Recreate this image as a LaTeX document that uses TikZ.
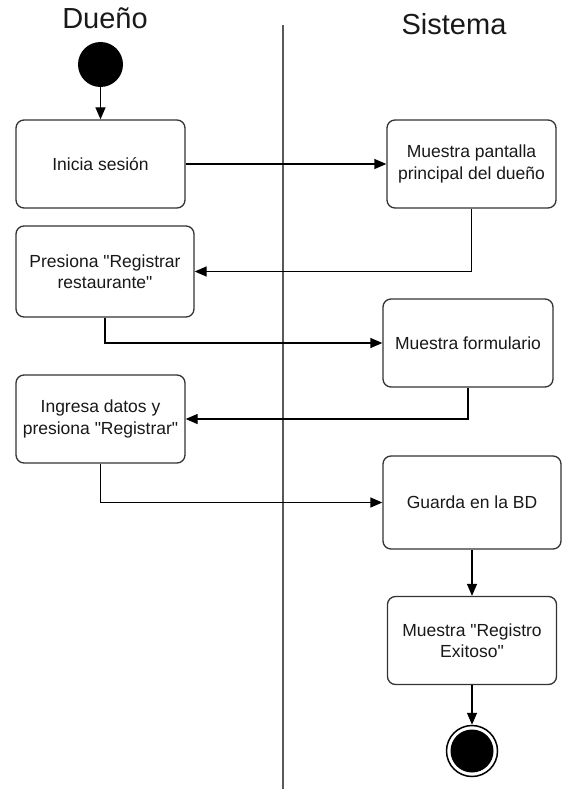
\documentclass[tikz,border=0pt]{standalone}
\usepackage{fontspec}
\setmainfont{Liberation Sans}[Ligatures=TeXOff]
\usetikzlibrary{arrows.meta}
\tikzset{
    action/.style ={
        shape=rectangle,
        rounded corners=8pt,
        draw=black!80,
        line width=1.3pt,
        fill=white,
        text=black!90,
        align=center,
        inner sep=0pt,
        minimum width=169pt,
        minimum height=88pt,
        font=\fontsize{17.5}{21.5}\selectfont
    },
    startdot/.style ={
        shape=circle,
        fill=black,
        inner sep=0pt,
        minimum size=45pt
    },
    endring/.style ={
        shape=circle,
        draw=black,
        line width=1.5pt,
        inner sep=0pt,
        minimum size=51pt
    },
    enddot/.style ={
        shape=circle,
        fill=black,
        inner sep=0pt,
        minimum size=43pt
    },
    lanetitle/.style ={
        anchor=base,
        text=black!90,
        font=\fontsize{29}{34}\selectfont
    },
    lane/.style ={
        draw=black!65,
        line width=1.5pt
    },
    flow/.style ={
        -{Triangle[length=12pt,width=10pt]},
        line width=1.3pt
    }
}

\begin{document}
\begin{tikzpicture}[x=1pt,y=-1pt]
    \useasboundingbox (0,0) rectangle (562,789);
    \node[lanetitle] (dueno) at (105,29) {Dueño};
    \node[lanetitle] (sistema) at (454,35) {Sistema};
    \coordinate (laneTop) at (283,25);
    \coordinate (laneEnd) at (283,789);
    \draw[lane] (laneTop) -- (laneEnd);

    \node[startdot] (inicio) at (100.5,64.5) {};
    \node[action] (sesion) at (100.5,164) {Inicia sesión};
    \node[action] (pantalla) at (471.5,164) {Muestra pantalla\\principal del dueño};
    \node[action, minimum width=178pt, minimum height=91pt] (presiona) at (105,271.5) {Presiona "Registrar\\restaurante"};
    \node[action, minimum width=170pt] (formulario) at (468,343) {Muestra formulario};
    \node[action] (ingresa) at (100.5,419) {Ingresa datos y\\presiona "Registrar"};
    \node[action, minimum width=178pt, minimum height=93pt] (guarda) at (472,502.5) {Guarda en la BD};
    \node[action] (exito) at (472,640.5) {Muestra "Registro\\Exitoso"};
    \node[endring] (fin) at (472,751) {};
    \node[enddot] (finDot) at (fin) {};

    \draw[flow] (inicio) -- (sesion);
    \draw[flow] (sesion) -- (pantalla);
    \draw[flow] (pantalla.south) |- (presiona.east);
    \draw[flow] (presiona.south) |- (formulario.west);
    \draw[flow] (formulario.south) |- (ingresa.east);
    \draw[flow] (ingresa.south) |- (guarda.west);
    \draw[flow] (guarda) -- (exito);
    \draw[flow] (exito) -- (fin);
\end{tikzpicture}
\end{document}
